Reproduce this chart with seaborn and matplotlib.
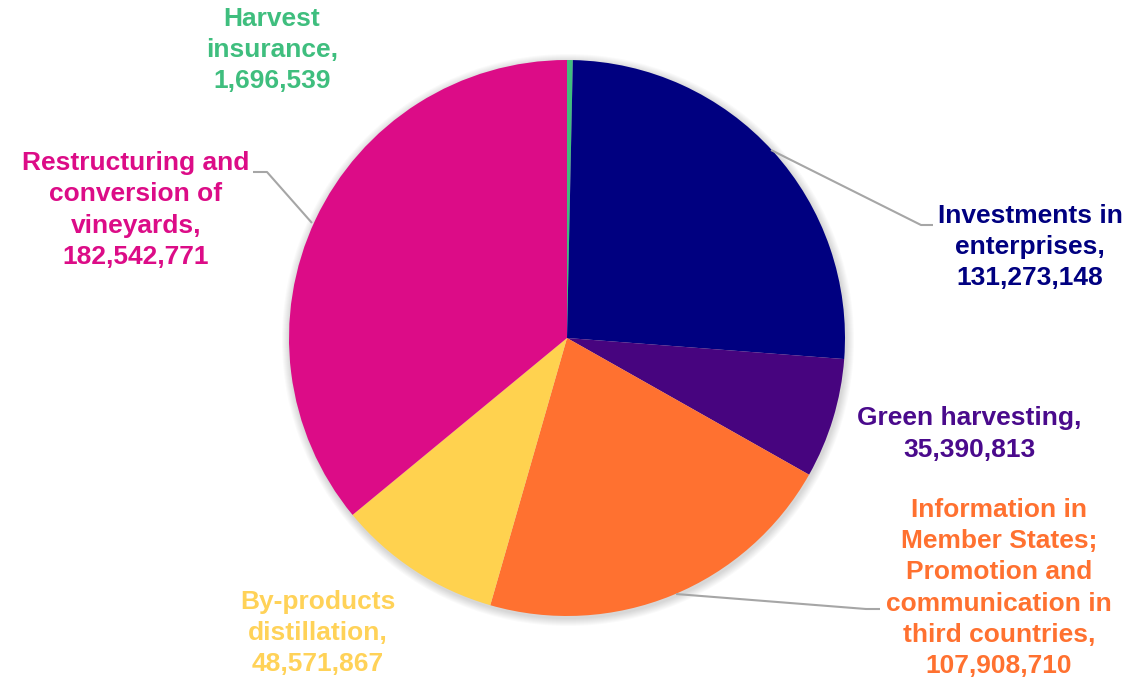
import matplotlib
matplotlib.use("Agg")
import matplotlib.pyplot as plt
from matplotlib.patches import Circle
import seaborn as sns

# Wine sector support measures, spend by measure (EUR)
categories = [
    "Harvest\ninsurance",
    "Investments in\nenterprises",
    "Green harvesting",
    "Information in\nMember States;\nPromotion and\ncommunication in\nthird countries",
    "By-products\ndistillation",
    "Restructuring and\nconversion of\nvineyards",
]
values = [1696539, 131273148, 35390813, 107908710, 48571867, 182542771]
slice_colors = ["#3FBE7E", "#000080", "#47047F", "#FF7130", "#FFD24F", "#DC0C87"]
text_colors = ["#3FBE7E", "#000080", "#4A0A8C", "#FF7130", "#FFD258", "#DC0C87"]

# Layout in pixel units (origin top-left)
W, H = 1148, 677
CX, CY, R = 567, 338, 278
label_pos = [(272, 50), (1030, 247), (969, 434), (999, 588), (318, 633), (136, 210)]
leaders = {
    1: [(771, 150), (921, 225), (933, 225)],
    3: [(676, 594), (866, 609), (880, 609)],
    5: [(312, 223), (267, 172), (253, 172)],
}

sns.set_theme(style="white")
plt.rcParams["font.family"] = ["Liberation Sans", "DejaVu Sans"]

fig = plt.figure(figsize=(W / 100, H / 100), dpi=100)
ax = fig.add_axes([0, 0, 1, 1])


def fy(y):
    return H - y


# soft shadow around the pie
for k in range(1, 9):
    ax.add_patch(Circle((CX + 1, fy(CY + 2)), R + k, color="black",
                        alpha=0.018, lw=0, zorder=0))

ax.pie(values, colors=slice_colors, startangle=90, counterclock=False,
       center=(CX, fy(CY)), radius=R, frame=True,
       wedgeprops=dict(linewidth=0, zorder=2))
ax.set_xlim(0, W)
ax.set_ylim(0, H)
ax.set_aspect("equal")
ax.axis("off")

for i, pts in leaders.items():
    xs = [p[0] for p in pts]
    ys = [fy(p[1]) for p in pts]
    ax.plot(xs, ys, color="#A6A6A6", lw=1.5, zorder=3, solid_capstyle="butt")

for name, v, col, (x, y) in zip(categories, values, text_colors, label_pos):
    ax.text(x, fy(y), f"{name},\n{v:,}", color=col, fontsize=19,
            fontweight="bold", ha="center", va="center", linespacing=1.37,
            zorder=4)

fig.savefig("out.png", dpi=100)
